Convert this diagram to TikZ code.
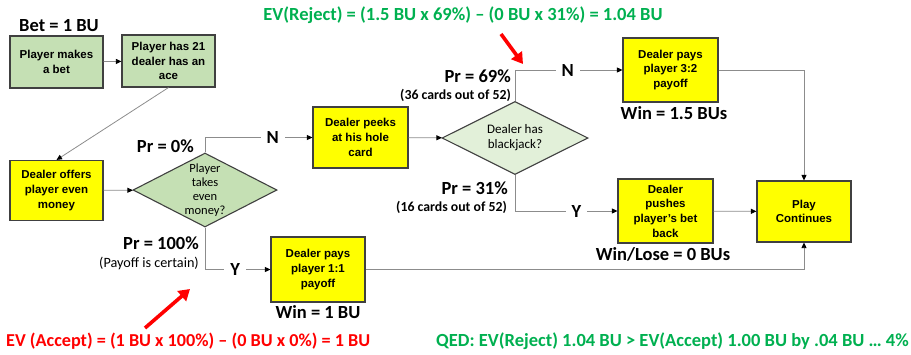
\documentclass[tikz,border=0pt]{standalone}
\usepackage{fontspec}
\setmainfont{Carlito}
\newfontfamily\boxfont{Liberation Sans}
\usetikzlibrary{shapes.geometric,arrows.meta}

\definecolor{boxgreen}{HTML}{C5E0B4}
\definecolor{diamgreen}{HTML}{E2F0D9}
\definecolor{boxyellow}{HTML}{FFFF00}
\definecolor{edgegray}{HTML}{404040}
\definecolor{linegray}{HTML}{8C8C8C}
\definecolor{evgreen}{HTML}{00B050}
\definecolor{evred}{HTML}{FF0000}

\tikzset{
  stepbox/.style={draw=edgegray, line width=1.1pt, inner sep=2pt, align=center,
    font=\boxfont\bfseries\fontsize{11.5}{14.7}\selectfont},
  greenbox/.style={stepbox, fill=boxgreen},
  yellowbox/.style={stepbox, fill=boxyellow},
  decision/.style={diamond, draw=edgegray, line width=1.1pt, inner sep=0pt},
  dtext/.style={align=center, inner sep=0pt, font=\fontsize{12.5}{14}\selectfont},
  conn/.style={draw=linegray, line width=0.8pt,
    -{Triangle[length=5.5pt,width=5pt,color=black]}},
  branch/.style={fill=white, inner xsep=6pt, inner ysep=1pt,
    font=\bfseries\fontsize{18.5}{20}\selectfont},
  note/.style={inner sep=0pt, font=\bfseries\fontsize{18.5}{20}\selectfont},
  smallnote/.style={inner sep=0pt, font=\bfseries\fontsize{13.8}{15}\selectfont},
  redarrow/.style={draw=evred, line width=3.6pt,
    -{Triangle[length=11pt,width=13pt]}},
}

\begin{document}
\begin{tikzpicture}[x=1pt,y=-1pt]
\useasboundingbox (0,0) rectangle (911,354);

% boxes
\node[greenbox, minimum width=93pt, minimum height=52pt] (bet) at (56.5,62)
  {Player makes\\a bet};
\node[greenbox, minimum width=93pt, minimum height=52pt] (ace) at (168.5,61)
  {Player has 21\\dealer has an\\ace};
\node[yellowbox, minimum width=93pt, minimum height=60pt] (offer) at (56.5,190.5)
  {Dealer offers\\player even\\money};
\node[yellowbox, minimum width=95pt, minimum height=61pt] (peek) at (360.5,137.5)
  {Dealer peeks\\at his hole\\card};
\node[yellowbox, minimum width=95pt, minimum height=64pt] (pay32) at (670.5,70)
  {Dealer pays\\player 3:2\\payoff};
\node[yellowbox, minimum width=95pt, minimum height=64pt] (push) at (665.5,211)
  {Dealer\\pushes\\player’s bet\\back};
\node[yellowbox, minimum width=94pt, minimum height=61pt] (play) at (804,211.5)
  {Play\\Continues};
\node[yellowbox, minimum width=94pt, minimum height=65pt] (pay11) at (318,269.5)
  {Dealer pays\\player 1:1\\payoff};

% decisions
\node[decision, fill=boxgreen, minimum width=144pt, minimum height=74pt] (even) at (205,190) {};
\node[dtext] (event) at (even) {Player\\takes\\even\\money?};
\node[decision, fill=diamgreen, minimum width=146pt, minimum height=73pt] (bj) at (515,138) {};
\node[dtext, font=\fontsize{13}{15}\selectfont] (bjt) at (bj) {Dealer has\\blackjack?};

% connectors
\draw[conn] (bet) -- (ace);
\draw[conn] (ace.south) -- (offer.north);
\draw[conn] (offer) -- (even);
\draw[conn] (even.north) |- (peek.west) node[branch, pos=0.815] (n1) {N};
\draw[conn] (even.south) |- (pay11.west) node[branch, pos=0.73] (y1) {Y};
\draw[conn] (peek) -- (bj);
\draw[conn] (bj.north) |- (pay32.west) node[branch, pos=0.745] (n2) {N};
\draw[conn] (bj.south) |- (push.west) node[branch, pos=0.8] (y2) {Y};
\draw[conn] (pay32.east) -| (play.north);
\draw[conn] (push) -- (play);
\draw[conn] (pay11.east) -| (play.south);

% labels
\node[note] (betlbl) at (59,26) {Bet = 1 BU};
\node[note, anchor=east] (pr0) at (194,146) {Pr = 0\%};
\node[note, anchor=east] (pr100) at (199,243) {Pr = 100\%};
\node[smallnote, anchor=east, font=\fontsize{14.2}{16}\selectfont] (certain) at (199,263) {(Payoff is certain)};
\node[note, anchor=east] (pr69) at (511,76) {Pr = 69\%};
\node[smallnote, anchor=east] (c36) at (511,95) {(36 cards out of 52)};
\node[note, anchor=east] (pr31) at (508,188) {Pr = 31\%};
\node[smallnote, anchor=east] (c16) at (507,207) {(16 cards out of 52)};
\node[note] (win15) at (674,113) {Win = 1.5 BUs};
\node[note] (win0) at (663,254) {Win/Lose = 0 BUs};
\node[note] (win1) at (318,312) {Win = 1 BU};

% expected values
\node[note, text=evgreen] (evrej) at (463,15)
  {EV(Reject) = (1.5 BU x 69\%) – (0 BU x 31\%) = 1.04 BU};
\node[note, text=evred, anchor=west, font=\bfseries\fontsize{18.2}{20}\selectfont] (evacc) at (6,341)
  {EV (Accept) = (1 BU x 100\%) – (0 BU x 0\%) = 1 BU};
\node[note, text=evgreen, anchor=east] (qed) at (909,341)
  {QED: EV(Reject) 1.04 BU > EV(Accept) 1.00 BU by .04 BU … 4\%};

% pointers
\coordinate (ra1s) at (145,328);
\coordinate (ra1e) at (190,289);
\draw[redarrow] (ra1s) -- (ra1e);
\coordinate (ra2s) at (501,34);
\coordinate (ra2e) at (523,64);
\draw[redarrow] (ra2s) -- (ra2e);
\end{tikzpicture}
\end{document}
